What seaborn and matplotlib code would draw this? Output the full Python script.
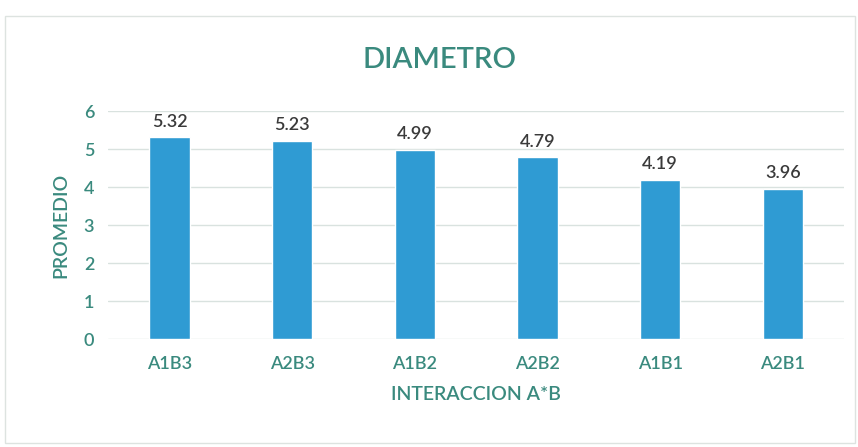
import pandas as pd
import matplotlib
matplotlib.use("Agg")
import matplotlib.pyplot as plt
import seaborn as sns
from matplotlib.patches import Rectangle

categories = ["A1B3", "A2B3", "A1B2", "A2B2", "A1B1", "A2B1"]
promedio = [5.32, 5.23, 4.99, 4.79, 4.19, 3.96]
labels = ["5.32", "5.23", "4.99", "4.79", "4.19", "3.96"]

df = pd.DataFrame({"Interaccion": categories, "Promedio": promedio})

sns.set_style("white")
plt.rcParams["font.family"] = ["Lato", "DejaVu Sans"]

teal = "#3a8a7e"
bar_color = "#2f9bd3"

fig = plt.figure(figsize=(8.58, 4.47), dpi=100)
ax = fig.add_axes([0.126, 0.241, 0.858, 0.51])

sns.barplot(data=df, x="Interaccion", y="Promedio", color=bar_color,
            width=0.33, saturation=1, ax=ax)

ax.set_ylim(0, 6)
ax.set_yticks(range(0, 7))
ax.grid(axis="y", color="#d9e2df", linewidth=1)
ax.set_axisbelow(True)
for s in ax.spines.values():
    s.set_visible(False)
ax.tick_params(axis="both", length=0, colors=teal, labelsize=13)
ax.tick_params(axis="x", pad=12)
ax.tick_params(axis="y", pad=10)
for lbl in ax.get_xticklabels() + ax.get_yticklabels():
    lbl.set_fontweight("semibold")

for i, (v, t) in enumerate(zip(promedio, labels)):
    ax.text(i, v + 0.2, t, ha="center", va="bottom", fontsize=13,
            color="#3a3a3a", fontweight="semibold")

ax.set_xlabel("INTERACCION A*B", fontsize=14, color=teal, labelpad=10, fontweight="semibold")
ax.set_ylabel("PROMEDIO", fontsize=14, color=teal, labelpad=10, fontweight="semibold")
fig.text(0.512, 0.865, "DIAMETRO", ha="center", va="center", fontsize=21,
         color=teal, fontweight="semibold")

fig.patches.append(Rectangle((0.006, 0.01), 0.99, 0.955, transform=fig.transFigure,
                             fill=False, edgecolor="#dde3e0", linewidth=1))

fig.savefig("out.png", dpi=100)
